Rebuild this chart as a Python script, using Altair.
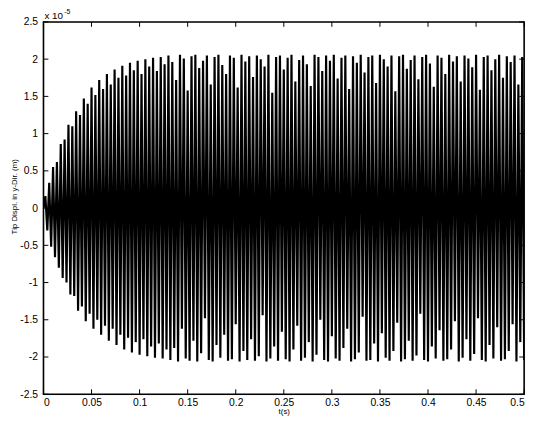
import altair as alt
import pandas as pd

pos_peaks = [
    0.16, 0.34, 0.55, 0.62, 0.86, 0.92, 1.12, 1.10, 1.30, 1.25,
    1.47, 1.40, 1.62, 1.52, 1.72, 1.60, 1.80, 1.66, 1.86, 1.75,
    1.91, 1.78, 1.95, 1.85, 1.98, 1.80, 2.00, 1.90, 2.02, 1.84,
    2.03, 1.93,
    2.05, 1.96, 1.72, 2.06, 2.01, 1.58, 2.04, 2.06, 1.88, 1.98,
    2.05, 1.66, 2.03, 2.06, 1.92, 1.80, 2.05, 2.02, 1.62, 2.06,
    1.97, 2.04, 1.76, 2.05, 2.00, 1.90, 2.06, 1.55, 2.03, 2.05,
    1.86, 2.02, 2.06, 1.70, 1.99, 2.05, 1.93, 1.64, 2.06, 2.03,
    1.84, 2.05, 1.98, 2.06, 1.74, 2.02, 2.05, 1.60, 2.04, 1.95,
    2.06, 1.82, 2.03, 2.05, 1.68, 2.06, 2.00, 1.90, 2.05, 1.57,
    2.04, 2.06, 1.87, 1.99, 2.05, 1.73, 2.03, 2.06, 1.94, 1.63,
    2.05, 2.02, 1.80, 2.06, 1.97, 2.04, 1.70, 2.05, 2.01, 1.89,
    2.06, 1.59, 2.03, 2.05, 1.85, 2.00, 2.06, 1.75, 2.04, 1.96,
    2.05, 1.66, 2.03,
]

neg_peaks = [
    -0.30, -0.52, -0.66, -0.80, -0.94, -1.00, -1.16, -1.18, -1.38, -1.32,
    -1.52, -1.42, -1.62, -1.50, -1.70, -1.58, -1.78, -1.62, -1.84, -1.70,
    -1.90, -1.74, -1.94, -1.80, -1.97, -1.76, -1.99, -1.86, -2.01, -1.82,
    -2.02, -1.90,
    -2.04, -1.88, -2.06, -1.62, -2.02, -2.05, -1.78, -2.06, -1.95, -1.48,
    -2.04, -2.06, -1.84, -2.01, -1.70, -2.05, -2.03, -1.56, -2.06, -1.92,
    -2.04, -1.76, -2.05, -1.99, -1.44, -2.06, -2.02, -1.86, -2.05, -1.66,
    -2.03, -2.06, -1.90, -1.58, -2.05, -2.01, -1.80, -2.06, -1.97, -1.50,
    -2.04, -2.06, -1.72, -2.02, -2.05, -1.88, -1.62, -2.06, -2.03, -1.94,
    -1.46, -2.05, -2.04, -1.82, -2.06, -1.68, -2.01, -2.05, -1.92, -1.54,
    -2.06, -2.03, -1.78, -2.05, -1.98, -1.42, -2.04, -2.06, -1.86, -2.02,
    -1.64, -2.05, -2.03, -1.90, -1.52, -2.06, -2.01, -1.76, -2.05, -1.96,
    -1.48, -2.04, -2.06, -1.84, -2.02, -1.60, -2.05, -2.03, -1.92, -1.56,
    -2.06, -1.80, -2.04,
]

sample_step = 0.002  # s between successive peaks
x_ticks = [0, 0.05, 0.1, 0.15, 0.2, 0.25, 0.3, 0.35, 0.4, 0.45, 0.5]
y_ticks = [-2.5, -2, -1.5, -1, -0.5, 0, 0.5, 1, 1.5, 2, 2.5]
x_title = "t(s)"
y_title = "Tip Displ. in y-Dir. (m)"
exp_base = "x 10"
exp_power = "-5"

vals = [0.0]
for p, n in zip(pos_peaks, neg_peaks):
    vals += [p, n]
times = [round(k * sample_step, 4) for k in range(len(vals))]
df = pd.DataFrame({"t": times, "y": vals})

W, H = 488, 378
TK = 5
FONT = "Liberation Sans"
xs = alt.Scale(domain=[0, 0.5], nice=False, zero=False)
ys = alt.Scale(domain=[-2.5, 2.5], nice=False, zero=False)

x_axis = alt.Axis(values=x_ticks, title=x_title, ticks=False, domain=False, grid=False,
                  labelPadding=3, labelExpr="'' + datum.value",
                  labelFont=FONT, labelFontSize=10.5, labelColor="black",
                  titleFont=FONT, titleFontSize=8, titleFontWeight="normal", titleColor="black",
                  titleY=14, titleBaseline="top")
y_axis = alt.Axis(values=y_ticks, title=y_title, ticks=False, domain=False, grid=False,
                  labelPadding=6, labelExpr="'' + datum.value",
                  labelFont=FONT, labelFontSize=10.5, labelColor="black",
                  titleFont=FONT, titleFontSize=8, titleFontWeight="normal", titleColor="black",
                  titleX=-29, titleY=177, titleBaseline="middle", titleAngle=270)

line = alt.Chart(df).mark_line(color="black", strokeWidth=2.2, clip=True).encode(
    x=alt.X("t:Q", scale=xs, axis=x_axis, title=x_title),
    y=alt.Y("y:Q", scale=ys, axis=y_axis, title=y_title),
)

xt = pd.DataFrame({"t": x_ticks})
yt = pd.DataFrame({"y": y_ticks})
xtick_b = alt.Chart(xt).mark_rule(color="black", strokeWidth=1).encode(
    x=alt.X("t:Q", scale=xs, axis=x_axis, title=x_title), y=alt.value(H), y2=alt.value(H - TK))
xtick_t = alt.Chart(xt).mark_rule(color="black", strokeWidth=1).encode(
    x=alt.X("t:Q", scale=xs, axis=x_axis, title=x_title), y=alt.value(0), y2=alt.value(TK))
ytick_l = alt.Chart(yt).mark_rule(color="black", strokeWidth=1).encode(
    y=alt.Y("y:Q", scale=ys, axis=y_axis, title=y_title), x=alt.value(0), x2=alt.value(TK))
ytick_r = alt.Chart(yt).mark_rule(color="black", strokeWidth=1).encode(
    y=alt.Y("y:Q", scale=ys, axis=y_axis, title=y_title), x=alt.value(W), x2=alt.value(W - TK))

frame = alt.Chart(pd.DataFrame({"t": [0.0], "y": [-2.5]})).mark_rect(
    fill=None, stroke="black", strokeWidth=1.6
).encode(x=alt.value(0), x2=alt.value(W), y=alt.value(0), y2=alt.value(H))

exp1 = alt.Chart(pd.DataFrame({"s": [exp_base]})).mark_text(
    align="left", baseline="alphabetic", fontSize=10, font=FONT, color="black"
).encode(x=alt.value(1), y=alt.value(-3), text="s:N")
exp2 = alt.Chart(pd.DataFrame({"s": [exp_power]})).mark_text(
    align="left", baseline="alphabetic", fontSize=7, font=FONT, color="black"
).encode(x=alt.value(21), y=alt.value(-8), text="s:N")

chart = alt.layer(line, xtick_b, xtick_t, ytick_l, ytick_r, frame, exp1, exp2).properties(
    width=W, height=H,
    autosize=alt.AutoSizeParams(type="none"),
    padding={"left": 36, "top": 11, "right": 9, "bottom": 22},
).configure_view(
    stroke=None
).configure(background="white")

chart.save("out.html", embed_options={"renderer": "svg", "actions": False})
